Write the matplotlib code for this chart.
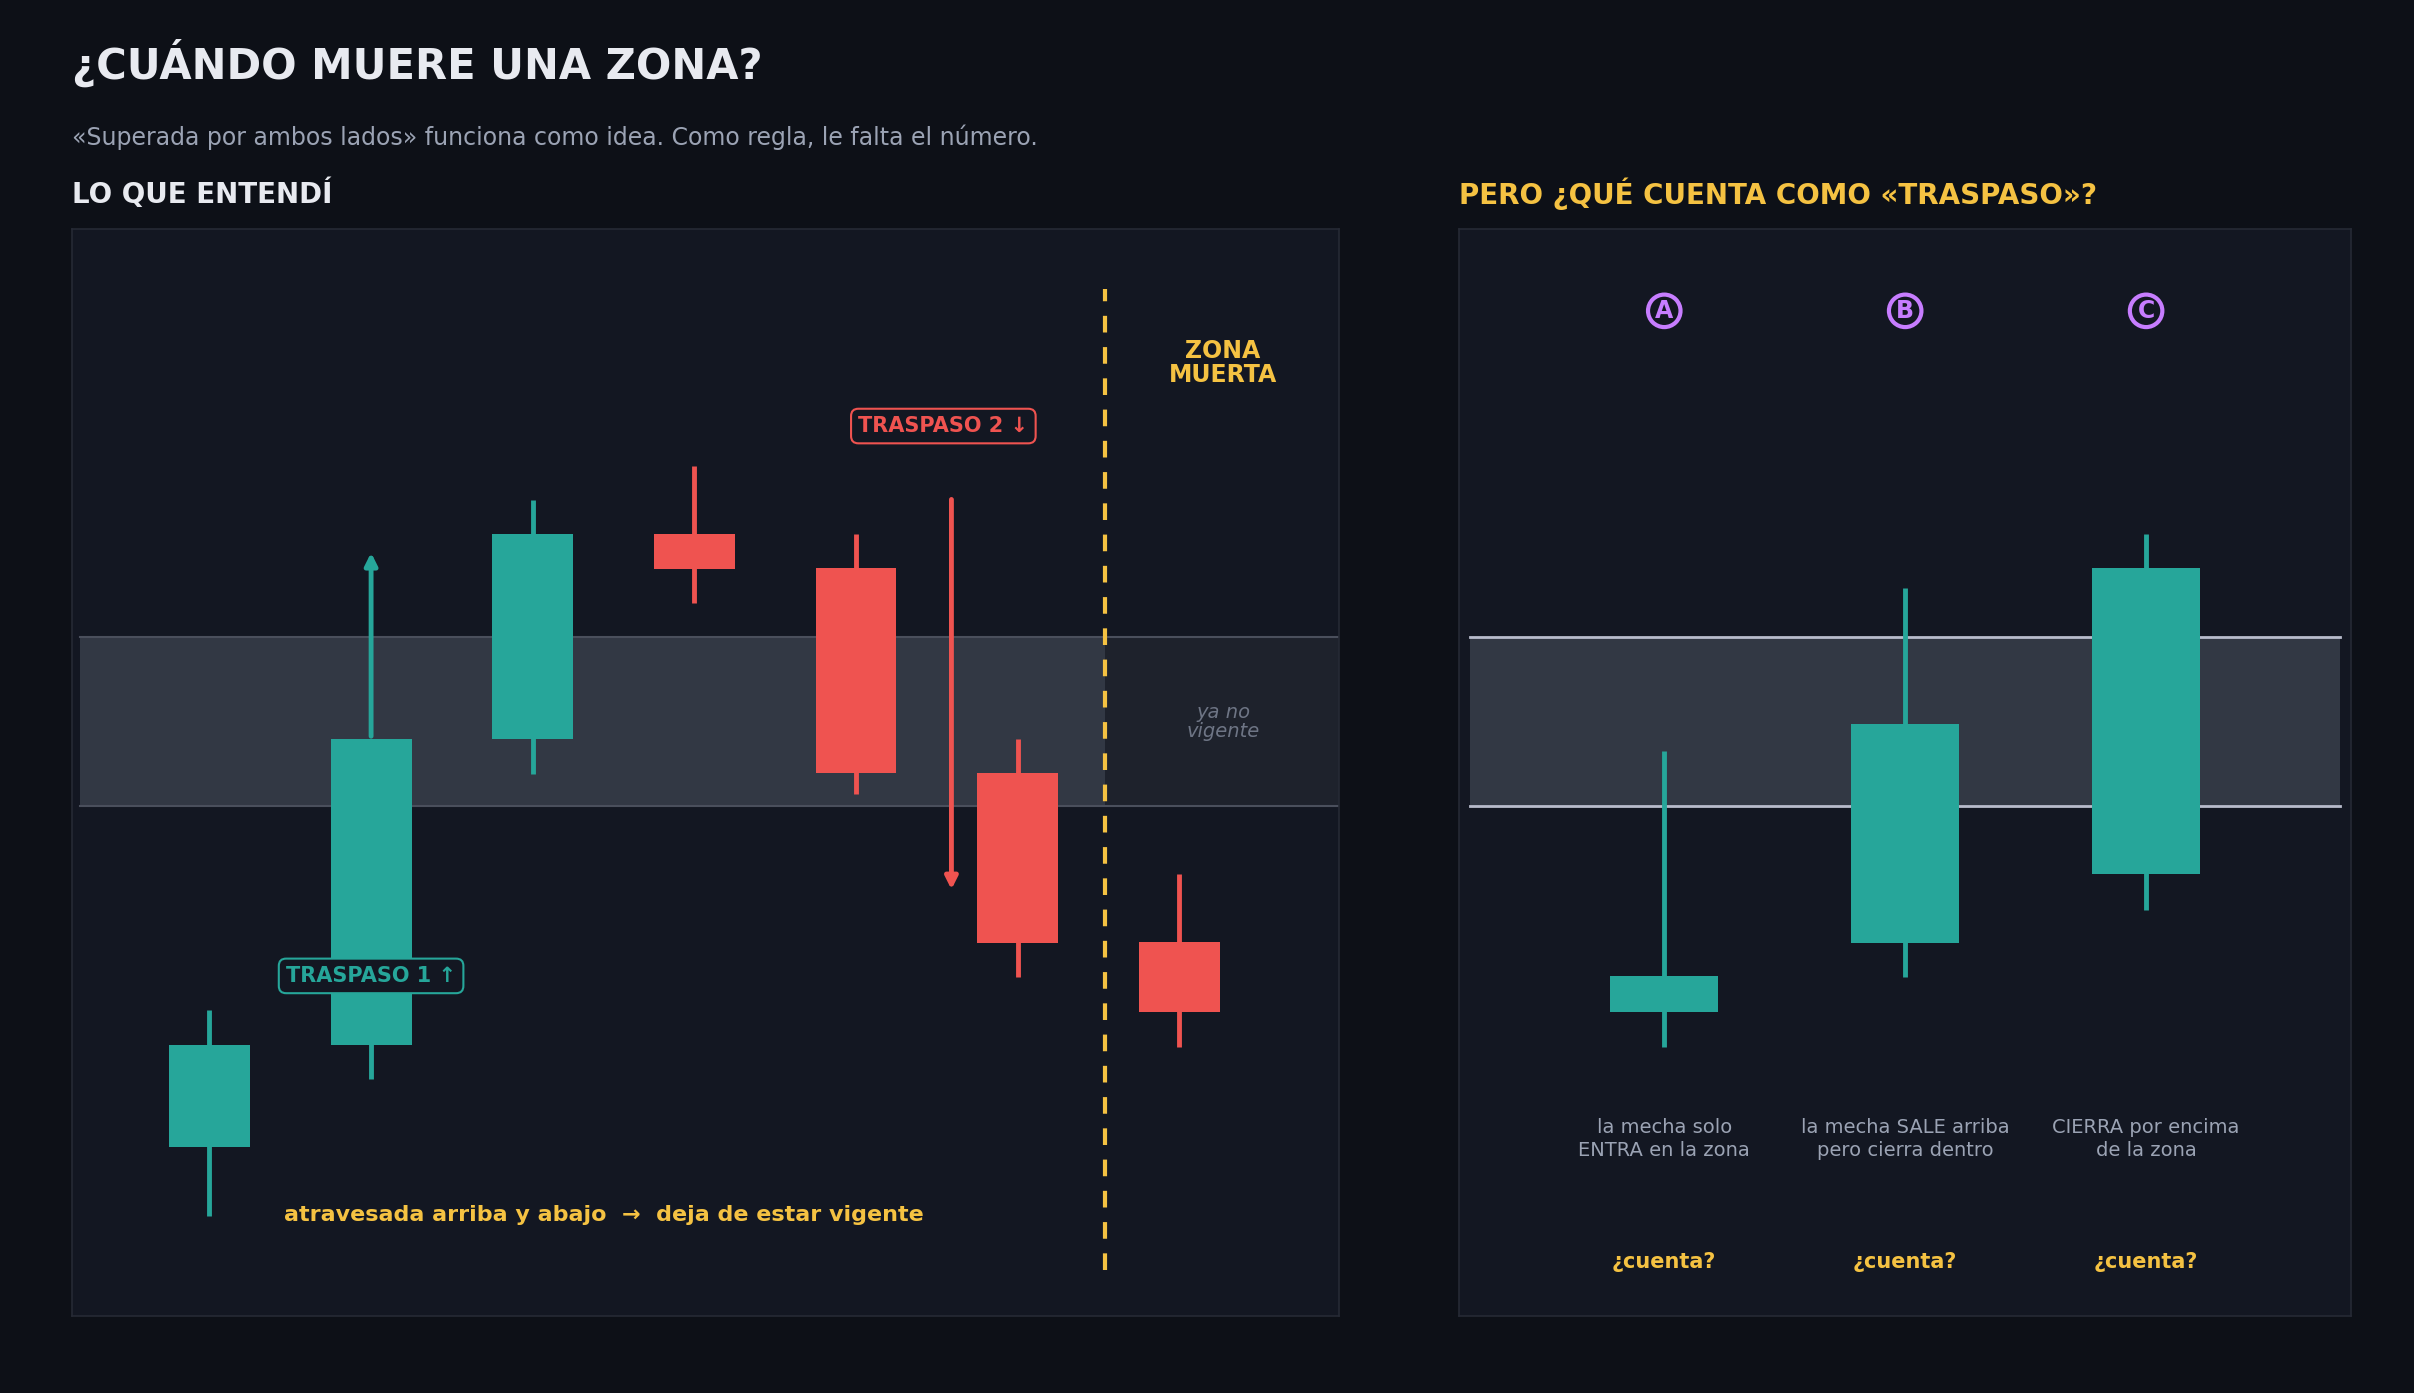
import matplotlib
matplotlib.use("Agg")
import matplotlib.pyplot as plt
from matplotlib.patches import Rectangle, FancyBboxPatch

plt.rcParams['font.family'] = ['DejaVu Sans']

# ---- data ----
left_open  = [15.6, 24.9, 53.1, 72.0, 68.8, 50.0, 34.4]
left_close = [24.9, 53.1, 72.0, 68.7, 50.0, 34.3, 28.0]
left_high  = [28.2, 53.1, 75.1, 78.2, 72.0, 53.1, 40.7]
left_low   = [9.2, 21.8, 49.9, 65.6, 48.0, 31.2, 24.8]
zone_low, zone_high = 46.9, 62.5

right_labels = ["A", "B", "C"]
right_open  = [28.0, 34.3, 40.7]
right_close = [31.3, 54.5, 68.8]
right_high  = [52.0, 67.0, 72.0]
right_low   = [24.8, 31.2, 37.4]
right_desc = ["la mecha solo\nENTRA en la zona",
              "la mecha SALE arriba\npero cierra dentro",
              "CIERRA por encima\nde la zona"]

BG = "#0d1017"; PANEL = "#131722"; BORDER = "#262a35"
GREEN = "#26a69a"; RED = "#ef5350"; YEL = "#f5c242"; PURP = "#c77dff"
GREY = "#9ba3b4"; WHITE = "#e8eaf0"

W, H = 1568, 905
fig = plt.figure(figsize=(24.14, 13.93), dpi=100, facecolor=BG)

def ax_at(x0, y0, x1, y1):
    a = fig.add_axes([x0 / W, 1 - y1 / H, (x1 - x0) / W, (y1 - y0) / H])
    a.set_facecolor(PANEL)
    for s in a.spines.values():
        s.set_color(BORDER); s.set_linewidth(1.2)
    a.set_xticks([]); a.set_yticks([])
    a.set_ylim(0, 100)
    return a

fig.text(47 / W, 1 - 41 / H, "¿CUÁNDO MUERE UNA ZONA?", color=WHITE, fontsize=30,
         fontweight="bold", va="center")
fig.text(47 / W, 1 - 89 / H, "«Superada por ambos lados» funciona como idea. Como regla, le falta el número.",
         color=GREY, fontsize=17, va="center")
fig.text(47 / W, 1 - 126 / H, "LO QUE ENTENDÍ", color=WHITE, fontsize=20, fontweight="bold", va="center")
fig.text(948 / W, 1 - 126 / H, "PERO ¿QUÉ CUENTA COMO «TRASPASO»?", color=YEL, fontsize=20,
         fontweight="bold", va="center")

def candle(a, x, o, c, h, l, w, lw=3.5):
    col = GREEN if c >= o else RED
    a.plot([x, x], [l, h], color=col, lw=lw, zorder=3, solid_capstyle="butt")
    a.add_patch(Rectangle((x - w / 2, min(o, c)), w, max(abs(c - o), 0.3), color=col, zorder=4, lw=0))

# ---- left ----
al = ax_at(47, 149, 870, 855)
al.set_xlim(0.152, 7.99)
dash_x = 6.543
al.add_patch(Rectangle((0.2, zone_low), dash_x - 0.2, zone_high - zone_low, facecolor="#323844",
                       edgecolor="none", zorder=1))
al.add_patch(Rectangle((dash_x, zone_low), 7.99 - dash_x, zone_high - zone_low, facecolor="#1e222c",
                       edgecolor="none", zorder=1))
al.plot([0.2, 7.99], [zone_high, zone_high], color="#4a4f5c", lw=1.5, zorder=2)
al.plot([0.2, 7.99], [zone_low, zone_low], color="#4a4f5c", lw=1.5, zorder=2)
for i in range(7):
    candle(al, i + 1, left_open[i], left_close[i], left_high[i], left_low[i], 0.5)
al.annotate("", xy=(2, 70.5), xytext=(2, 53.1),
            arrowprops=dict(arrowstyle="-|>", color=GREEN, lw=3.5, mutation_scale=18), zorder=5)
al.annotate("", xy=(5.59, 39.0), xytext=(5.59, 75.4),
            arrowprops=dict(arrowstyle="-|>", color=RED, lw=3.5, mutation_scale=18), zorder=5)
al.plot([dash_x, dash_x], [4.2, 94.5], color=YEL, lw=3, ls=(0, (4, 3.5)), zorder=5)
al.text(5.54, 81.9, "TRASPASO 2 ↓", color=RED, fontsize=15, fontweight="bold", ha="center", va="center",
        bbox=dict(boxstyle="round,pad=0.35", fc=PANEL, ec=RED, lw=1.5), zorder=6)
al.text(2.0, 31.3, "TRASPASO 1 ↑", color=GREEN, fontsize=15, fontweight="bold", ha="center", va="center",
        bbox=dict(boxstyle="round,pad=0.35", fc=PANEL, ec=GREEN, lw=1.5), zorder=6)
al.text(7.27, 87.7, "ZONA\nMUERTA", color=YEL, fontsize=17, fontweight="bold", ha="center", va="center",
        linespacing=1.0)
al.text(7.27, 54.7, "ya no\nvigente", color="#6e7585", fontsize=14, style="italic", ha="center",
        va="center", linespacing=1.0)
al.text(3.44, 9.3, "atravesada arriba y abajo  →  deja de estar vigente", color=YEL, fontsize=16,
        fontweight="bold", ha="center", va="center")

# ---- right ----
ar = ax_at(948, 149, 1527, 855)
ar.set_xlim(0.150, 3.85)
ar.add_patch(Rectangle((0.195, zone_low), 3.805 - 0.195, zone_high - zone_low, facecolor="#323844",
                       edgecolor="none", zorder=1))
for yv in (zone_low, zone_high):
    ar.plot([0.195, 3.805], [yv, yv], color="#b8bccc", lw=2, zorder=2)
for i in range(3):
    candle(ar, i + 1, right_open[i], right_close[i], right_high[i], right_low[i], 0.45)
    ar.text(i + 1, 92.5, right_labels[i], color=PURP, fontsize=17, fontweight="bold", ha="center",
            va="center", bbox=dict(boxstyle="circle,pad=0.18", fc=PANEL, ec=PURP, lw=3))
    ar.text(i + 1, 16.3, right_desc[i], color=GREY, fontsize=14, ha="center", va="center", linespacing=1.3)
    ar.text(i + 1, 5.0, "¿cuenta?", color=YEL, fontsize=15, fontweight="bold", ha="center", va="center")

fig.savefig("out.png", dpi=100, facecolor=BG)
